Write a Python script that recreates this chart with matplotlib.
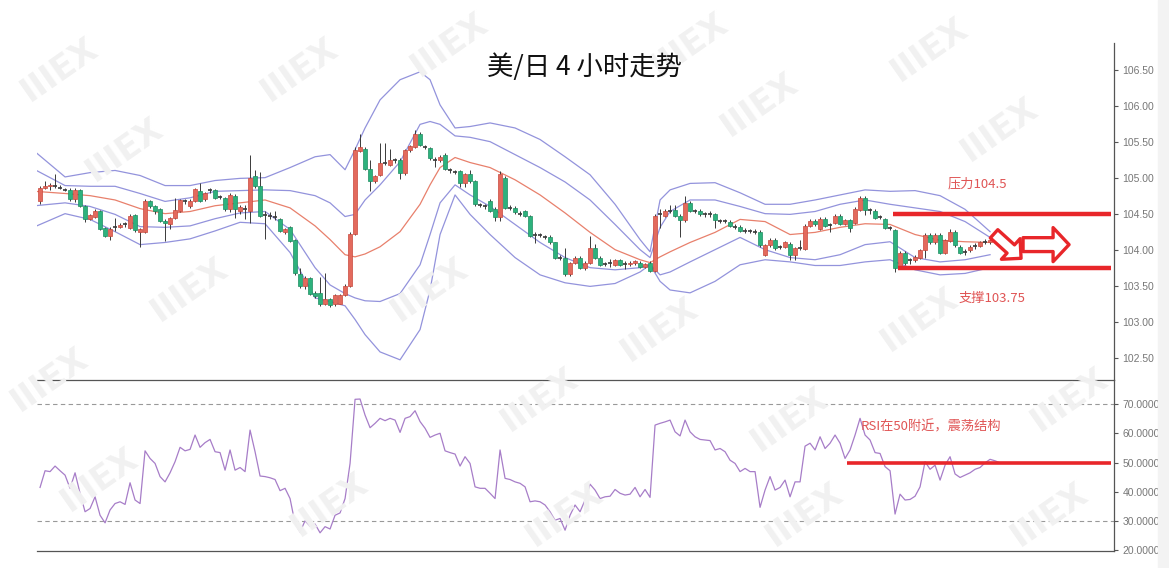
import matplotlib
matplotlib.use('Agg')
import matplotlib.pyplot as plt
import numpy as np
from matplotlib.ticker import FormatStrFormatter

plt.rcParams['font.family'] = ['Noto Sans CJK SC', 'DejaVu Sans']

# USD/JPY 4h candles (open, close, high, low)
opens = [104.67, 104.86, 104.88, 104.89, 104.87, 104.84, 104.83, 104.70, 104.83, 104.61,
         104.43, 104.46, 104.54, 104.30, 104.19, 104.30, 104.32, 104.34, 104.30, 104.48,
         104.24, 104.24, 104.68, 104.61, 104.56, 104.40, 104.36, 104.44, 104.54, 104.67,
         104.60, 104.68, 104.82, 104.70, 104.82, 104.83, 104.72, 104.72, 104.56, 104.74,
         104.53, 104.56, 104.54, 105.02, 104.88, 104.47, 104.46, 104.44, 104.42, 104.24,
         104.32, 104.14, 103.66, 103.49, 103.61, 103.40, 103.40, 103.25, 103.32, 103.24,
         103.25, 103.37, 103.50, 104.22, 105.37, 105.40, 105.12, 104.95, 105.04, 105.20,
         105.18, 105.23, 105.25, 105.06, 105.38, 105.43, 105.61, 105.42, 105.41, 105.23,
         105.24, 105.32, 105.09, 105.07, 105.09, 104.92, 105.05, 104.95, 104.61, 104.59,
         104.68, 104.57, 104.45, 105.00, 104.57, 104.58, 104.49, 104.53, 104.47, 104.20,
         104.19, 104.17, 104.18, 104.10, 103.88, 103.89, 103.66, 103.82, 103.89, 103.74,
         103.82, 104.02, 103.89, 103.79, 103.81, 103.79, 103.85, 103.79, 103.80, 103.81,
         103.82, 103.76, 103.82, 103.71, 104.48, 104.47, 104.53, 104.55, 104.47, 104.41,
         104.65, 104.53, 104.54, 104.48, 104.48, 104.49, 104.39, 104.39, 104.39, 104.31,
         104.32, 104.25, 104.25, 104.24, 104.25, 103.93, 104.06, 104.14, 104.03, 104.04,
         104.08, 103.92, 104.01, 104.01, 104.33, 104.40, 104.29, 104.43, 104.33, 104.37,
         104.47, 104.36, 104.41, 104.37, 104.55, 104.72, 104.54, 104.54, 104.44, 104.42,
         104.29, 104.27, 103.75, 103.96, 103.84, 103.85, 103.89, 103.99, 104.21, 104.10,
         104.21, 103.96, 104.12, 104.25, 104.04, 103.96, 103.99, 104.04, 104.05, 104.10,
         104.10]
closes = [104.86, 104.88, 104.90, 104.88, 104.86, 104.83, 104.70, 104.83, 104.61, 104.43,
          104.48, 104.54, 104.29, 104.19, 104.29, 104.31, 104.34, 104.35, 104.47, 104.27,
          104.29, 104.68, 104.61, 104.53, 104.40, 104.37, 104.44, 104.55, 104.69, 104.68,
          104.68, 104.84, 104.68, 104.78, 104.83, 104.72, 104.73, 104.56, 104.76, 104.56,
          104.59, 104.57, 105.00, 104.88, 104.47, 104.48, 104.47, 104.45, 104.26, 104.28,
          104.12, 103.67, 103.49, 103.61, 103.39, 103.36, 103.25, 103.32, 103.23, 103.37,
          103.37, 103.50, 104.22, 105.39, 105.42, 105.12, 104.95, 105.02, 105.21, 105.21,
          105.25, 105.24, 105.06, 105.38, 105.44, 105.60, 105.46, 105.43, 105.27, 105.24,
          105.29, 105.12, 105.10, 105.08, 104.92, 105.05, 104.95, 104.63, 104.62, 104.60,
          104.54, 104.45, 105.05, 104.58, 104.58, 104.52, 104.50, 104.47, 104.19, 104.21,
          104.20, 104.18, 104.10, 103.89, 103.89, 103.66, 103.81, 103.89, 103.75, 103.82,
          104.02, 103.89, 103.79, 103.80, 103.82, 103.85, 103.79, 103.80, 103.82, 103.84,
          103.76, 103.80, 103.71, 104.47, 104.49, 104.54, 104.54, 104.47, 104.41, 104.65,
          104.54, 104.54, 104.49, 104.49, 104.49, 104.41, 104.40, 104.40, 104.33, 104.32,
          104.26, 104.26, 104.26, 104.25, 104.06, 104.06, 104.14, 104.02, 104.04, 104.10,
          103.92, 104.02, 104.02, 104.33, 104.40, 104.35, 104.43, 104.33, 104.34, 104.47,
          104.36, 104.41, 104.30, 104.57, 104.72, 104.55, 104.55, 104.44, 104.45, 104.30,
          104.30, 103.74, 103.96, 103.81, 103.85, 103.90, 103.99, 104.21, 104.10, 104.21,
          103.96, 104.13, 104.25, 104.06, 103.96, 103.97, 104.04, 104.05, 104.10, 104.11,
          104.14]
highs = [104.88, 104.95, 104.93, 105.05, 104.90, 104.86, 104.85, 104.85, 104.84, 104.62,
         104.50, 104.56, 104.55, 104.31, 104.31, 104.44, 104.37, 104.38, 104.49, 104.49,
         104.30, 104.70, 104.69, 104.62, 104.58, 104.42, 104.46, 104.72, 104.70, 104.71,
         104.70, 104.86, 104.93, 104.80, 104.86, 104.84, 104.76, 104.73, 104.78, 104.77,
         104.62, 104.62, 105.32, 105.10, 105.08, 104.54, 104.52, 104.54, 104.44, 104.30,
         104.33, 104.15, 103.75, 103.63, 103.62, 103.42, 103.62, 103.68, 103.33, 103.38,
         103.39, 103.52, 104.24, 105.42, 105.61, 105.42, 105.25, 105.04, 105.48, 105.48,
         105.40, 105.27, 105.27, 105.40, 105.46, 105.66, 105.63, 105.46, 105.43, 105.28,
         105.31, 105.34, 105.13, 105.11, 105.11, 105.07, 105.11, 104.97, 104.65, 104.63,
         104.70, 104.59, 105.09, 105.02, 104.62, 104.60, 104.53, 104.55, 104.48, 104.25,
         104.23, 104.21, 104.20, 104.11, 103.92, 104.02, 103.83, 103.91, 103.91, 103.84,
         104.19, 104.08, 103.91, 103.83, 103.87, 103.87, 103.87, 103.84, 103.84, 103.86,
         103.84, 103.82, 103.84, 104.49, 104.57, 104.56, 104.62, 104.62, 104.49, 104.74,
         104.67, 104.57, 104.56, 104.52, 104.53, 104.51, 104.43, 104.43, 104.41, 104.35,
         104.34, 104.30, 104.29, 104.28, 104.27, 104.08, 104.16, 104.16, 104.07, 104.12,
         104.10, 104.04, 104.13, 104.35, 104.42, 104.42, 104.45, 104.45, 104.37, 104.50,
         104.49, 104.43, 104.43, 104.59, 104.74, 104.74, 104.58, 104.56, 104.48, 104.44,
         104.33, 104.29, 103.98, 103.98, 103.88, 103.92, 104.01, 104.23, 104.23, 104.23,
         104.23, 104.15, 104.29, 104.27, 104.06, 104.01, 104.06, 104.09, 104.12, 104.15,
         104.16]
lows = [104.64, 104.84, 104.83, 104.85, 104.84, 104.81, 104.68, 104.66, 104.59, 104.38,
        104.41, 104.44, 104.27, 104.17, 104.14, 104.26, 104.30, 104.32, 104.28, 104.25,
        104.04, 104.23, 104.58, 104.50, 104.38, 104.12, 104.28, 104.42, 104.52, 104.63,
        104.58, 104.66, 104.66, 104.68, 104.79, 104.70, 104.70, 104.53, 104.52, 104.44,
        104.50, 104.42, 104.37, 104.86, 104.45, 104.15, 104.43, 104.41, 104.24, 104.22,
        104.10, 103.65, 103.47, 103.46, 103.37, 103.33, 103.22, 103.23, 103.21, 103.22,
        103.24, 103.35, 103.48, 104.20, 105.35, 105.10, 104.81, 104.93, 105.02, 105.18,
        105.16, 105.21, 104.98, 105.04, 105.36, 105.41, 105.44, 105.40, 105.25, 105.15,
        105.22, 105.10, 105.07, 105.05, 104.87, 104.87, 104.93, 104.61, 104.59, 104.57,
        104.52, 104.40, 104.40, 104.56, 104.55, 104.50, 104.47, 104.45, 104.17, 104.09,
        104.17, 104.15, 104.08, 103.87, 103.86, 103.64, 103.64, 103.80, 103.73, 103.72,
        103.80, 103.87, 103.77, 103.77, 103.76, 103.77, 103.77, 103.73, 103.78, 103.79,
        103.74, 103.74, 103.69, 103.69, 104.30, 104.45, 104.51, 104.45, 104.17, 104.39,
        104.52, 104.51, 104.47, 104.46, 104.46, 104.30, 104.37, 104.37, 104.31, 104.29,
        104.24, 104.23, 104.23, 104.22, 104.04, 103.91, 104.04, 104.00, 104.01, 104.02,
        103.85, 103.85, 103.99, 103.99, 104.31, 104.33, 104.27, 104.31, 104.25, 104.35,
        104.34, 104.34, 104.25, 104.35, 104.53, 104.48, 104.50, 104.42, 104.43, 104.28,
        104.27, 103.69, 103.73, 103.79, 103.80, 103.83, 103.87, 103.88, 104.08, 104.08,
        103.94, 103.94, 104.10, 104.04, 103.94, 103.93, 103.97, 104.01, 104.03, 104.08,
        104.08]

# Bollinger lines sampled at these candle numbers
band_idx = [-1, 5, 10, 15, 20, 25, 30, 35, 40, 45, 50, 55, 58, 61, 63, 65, 68, 72, 76, 78,
            80, 83, 86, 90, 95, 100, 105, 110, 115, 120, 122, 124, 126, 130, 135, 140, 145,
            150, 155, 160, 165, 170, 175, 180, 185, 190]
outer_up = [105.36, 105.01, 105.07, 105.10, 105.03, 104.89, 104.89, 104.96, 104.99, 105.00,
            105.14, 105.29, 105.32, 105.11, 105.39, 105.69, 106.08, 106.36, 106.47, 106.36,
            106.01, 105.69, 105.71, 105.76, 105.69, 105.53, 105.29, 105.04, 104.63, 104.14,
            103.97, 104.69, 104.83, 104.92, 104.93, 104.79, 104.63, 104.63, 104.69, 104.76,
            104.83, 104.81, 104.82, 104.75, 104.56, 104.25]
inner_up = [105.11, 104.89, 104.88, 104.88, 104.78, 104.67, 104.72, 104.81, 104.82, 104.83,
            104.82, 104.75, 104.65, 104.46, 104.49, 104.69, 104.90, 105.22, 105.74, 105.78,
            105.74, 105.58, 105.56, 105.50, 105.32, 105.14, 104.94, 104.69, 104.35, 104.00,
            103.89, 104.31, 104.53, 104.69, 104.69, 104.60, 104.50, 104.49, 104.53, 104.63,
            104.69, 104.63, 104.58, 104.53, 104.39, 104.17]
middle = [104.81, 104.78, 104.75, 104.69, 104.57, 104.50, 104.53, 104.61, 104.65, 104.69,
          104.58, 104.33, 104.14, 103.93, 103.90, 103.94, 104.04, 104.25, 104.63, 104.90,
          105.14, 105.28, 105.21, 105.14, 104.97, 104.76, 104.51, 104.24, 104.00, 103.86,
          103.82, 103.90, 103.97, 104.10, 104.24, 104.42, 104.39, 104.21, 104.24, 104.31,
          104.36, 104.35, 104.21, 104.13, 104.11, 104.10]
inner_low = [104.61, 104.65, 104.60, 104.49, 104.32, 104.31, 104.33, 104.43, 104.51, 104.53,
             104.28, 103.75, 103.51, 103.39, 103.33, 103.29, 103.28, 103.39, 103.79, 104.21,
             104.65, 104.90, 104.76, 104.60, 104.35, 104.10, 103.89, 103.75, 103.72, 103.75,
             103.79, 103.65, 103.69, 103.83, 104.00, 104.17, 104.00, 103.89, 103.86, 103.93,
             104.07, 104.11, 103.89, 103.83, 103.86, 103.93]
outer_low = [104.32, 104.50, 104.42, 104.25, 104.07, 104.10, 104.15, 104.26, 104.38, 104.36,
             103.96, 103.33, 103.28, 103.22, 103.03, 102.82, 102.58, 102.47, 102.89, 103.44,
             104.21, 104.76, 104.49, 104.21, 103.89, 103.65, 103.54, 103.49, 103.53, 103.69,
             103.79, 103.56, 103.44, 103.40, 103.56, 103.79, 103.86, 103.83, 103.78, 103.78,
             103.83, 103.86, 103.72, 103.65, 103.67, 103.75]

# RSI, one value per candle
rsi = [41.5, 47.2, 46.9, 48.8, 47.2, 45.7, 41.2, 46.5, 39.5, 33.2,
       34.3, 38.3, 32.0, 29.4, 33.8, 36.0, 36.6, 35.7, 43.1, 37.2,
       36.0, 54.0, 51.4, 49.7, 45.2, 43.4, 46.5, 50.3, 55.2, 54.0,
       54.5, 59.4, 55.2, 56.8, 57.9, 53.7, 53.4, 47.4, 54.3, 47.4,
       48.3, 46.9, 61.1, 53.7, 45.4, 45.2, 44.8, 44.2, 40.4, 41.2,
       37.7, 29.2, 26.3, 30.1, 28.3, 29.0, 26.0, 28.1, 27.3, 32.0,
       32.8, 37.7, 49.7, 71.6, 71.7, 66.2, 61.9, 63.4, 65.1, 64.3,
       65.1, 64.5, 60.3, 65.1, 65.7, 67.7, 64.0, 61.7, 58.6, 59.4,
       60.0, 54.0, 53.4, 52.9, 48.8, 52.0, 49.7, 41.7, 41.2, 41.2,
       39.5, 37.7, 54.3, 44.6, 44.2, 43.4, 42.9, 41.7, 36.6, 36.9,
       36.6, 35.5, 33.2, 30.3, 30.9, 26.9, 32.0, 35.5, 33.2, 37.2,
       42.6, 40.6, 37.7, 38.3, 38.5, 40.8, 39.5, 38.9, 39.2, 41.5,
       38.3, 40.8, 38.1, 62.8, 63.4, 63.9, 64.5, 60.5, 59.1, 64.5,
       60.5, 58.8, 57.9, 57.7, 57.5, 54.3, 54.8, 53.7, 50.8, 49.7,
       46.9, 48.0, 46.9, 46.9, 34.7, 40.6, 45.2, 40.6, 41.5, 44.0,
       38.3, 43.4, 43.4, 55.6, 56.6, 54.3, 58.8, 54.8, 56.6, 59.4,
       56.6, 51.4, 54.3, 59.4, 65.1, 59.4, 57.7, 53.4, 53.1, 48.6,
       47.2, 32.4, 39.2, 37.2, 37.4, 38.5, 41.7, 50.3, 47.7, 49.1,
       44.0, 49.1, 52.0, 46.1, 44.9, 45.7, 46.5, 47.7, 48.3, 49.9,
       51.1, 50.6, 49.9]

resistance = 104.5
support = 103.75
rsi_level = 50
title = '美/日 4 小时走势'
note_res = '压力104.5'
note_sup = '支撑103.75'
note_rsi = 'RSI在50附近，震荡结构'

RED = '#e8262a'
NOTE = '#e05555'

fig = plt.figure(figsize=(11.69, 5.68), dpi=100)
fig.patch.set_facecolor('white')

# faint watermarks
for wx, wy in [(60, 70), (125, 150), (300, 70), (450, 45), (690, 45), (760, 105), (930, 50),
               (1000, 130), (190, 290), (430, 290), (660, 330), (920, 320), (50, 380),
               (540, 400), (790, 420), (1070, 400), (100, 480), (330, 505), (565, 515),
               (805, 515), (1050, 515)]:
    fig.text(wx / 1169, 1 - wy / 568, 'IIIEX', fontsize=24, fontweight='bold',
             color='#f1f1f1', rotation=35, ha='center', va='center', zorder=0,
             family='DejaVu Sans')
fig.patches.append(plt.Rectangle((1158 / 1169, 0), 11 / 1169, 1, transform=fig.transFigure,
                                 color='#f3f3f3', zorder=0))

ax = fig.add_axes([0.0317, 0.331, 0.9213, 0.5933])
ax2 = fig.add_axes([0.0317, 0.030, 0.9213, 0.301], sharex=ax)
for a in (ax, ax2):
    a.patch.set_alpha(0)

x = np.arange(len(opens))
o = np.array(opens)
c = np.array(closes)
doji = np.abs(c - o) < 0.015
up = (c > o) & ~doji
dn = (c < o) & ~doji

ax.vlines(x, lows, highs, color='#3a3a3a', lw=0.7, zorder=2)
ax.bar(x[up], (c - o)[up], bottom=o[up], width=0.72, color='#e36a5d',
       edgecolor='#c8473c', lw=0.5, zorder=3)
ax.bar(x[dn], (o - c)[dn], bottom=c[dn], width=0.72, color='#2db27d',
       edgecolor='#1d8c60', lw=0.5, zorder=3)
ax.hlines(c[doji], x[doji] - 0.4, x[doji] + 0.4, color='#3a3a3a', lw=1.2, zorder=3)

for vals, col in [(outer_up, '#9393dc'), (inner_up, '#9393dc'), (middle, '#e8806c'),
                  (inner_low, '#9393dc'), (outer_low, '#9393dc')]:
    ax.plot(band_idx, vals, color=col, lw=0.9, zorder=1)

ax.hlines(resistance, 170.6, 214.2, color=RED, lw=3.2, zorder=4)
ax.hlines(support, 171.6, 214.2, color=RED, lw=3.2, zorder=4)

ax.annotate('', xy=(196.2, 103.88), xytext=(190.8, 104.22),
            arrowprops=dict(arrowstyle='simple,head_length=1.0,head_width=2.0,tail_width=0.8',
                            mutation_scale=10, fc='white', ec=RED, lw=2.4,
                            shrinkA=0, shrinkB=0), zorder=5)
ax.annotate('', xy=(205.8, 104.07), xytext=(196.6, 104.07),
            arrowprops=dict(arrowstyle='simple,head_length=1.15,head_width=2.45,tail_width=1.0',
                            mutation_scale=10, fc='white', ec=RED, lw=2.4,
                            shrinkA=0, shrinkB=0), zorder=5)

ax.text(181.6, 104.91, note_res, color=NOTE, fontsize=9.5, va='center', ha='left')
ax.text(183.6, 103.33, note_sup, color=NOTE, fontsize=9.5, va='center', ha='left')
fig.text(0.5, 0.882, title, fontsize=19, ha='center', va='center', color='#111111')

ax.set_xlim(-0.6, 214.8)
ax.set_ylim(102.19, 106.87)

# RSI panel
ax2.plot(np.arange(len(rsi)), rsi, color='#a77dc8', lw=0.9, zorder=2)
ax2.axhline(70, color='#999999', lw=0.8, ls=(0, (4, 3)), zorder=1)
ax2.axhline(30, color='#999999', lw=0.8, ls=(0, (4, 3)), zorder=1)
ax2.hlines(rsi_level, 161.4, 214.2, color=RED, lw=2.6, zorder=3)
ax2.text(164.2, 62.2, note_rsi, color=NOTE, fontsize=9.5, va='center', ha='left')
ax2.set_ylim(19.8, 78.2)

ax.set_yticks(np.arange(102.5, 106.51, 0.5))
ax.yaxis.set_major_formatter(FormatStrFormatter('%.2f'))
ax2.set_yticks(np.arange(20, 71, 10))
ax2.yaxis.set_major_formatter(FormatStrFormatter('%.4f'))

for a in (ax, ax2):
    a.yaxis.tick_right()
    a.tick_params(axis='y', labelsize=7.5, labelcolor='#777777', color='#555555',
                  length=3, width=0.8, pad=3)
    a.tick_params(axis='x', bottom=False, labelbottom=False)
    a.spines['left'].set_visible(False)
    a.spines['right'].set_color('#555555')
    a.spines['bottom'].set_color('#555555')
    a.spines['right'].set_linewidth(0.9)
    a.spines['bottom'].set_linewidth(0.9)
    for lab in a.get_yticklabels():
        lab.set_family('Liberation Sans')
ax.spines['top'].set_visible(False)
ax2.spines['top'].set_visible(False)

fig.savefig('out.png', dpi=100, facecolor='white')
